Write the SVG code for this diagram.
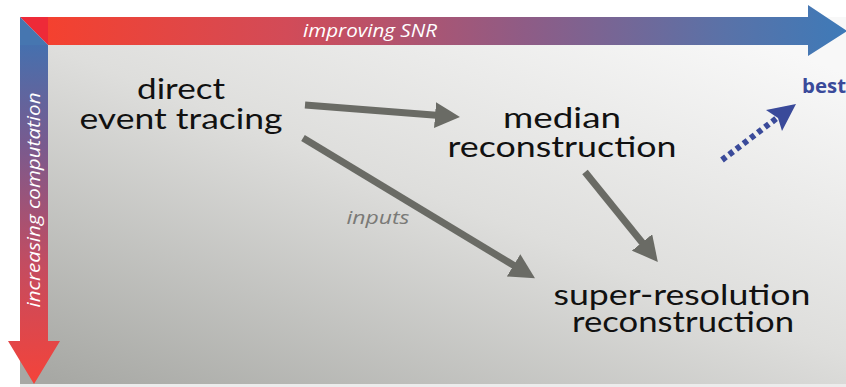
<svg xmlns="http://www.w3.org/2000/svg" width="846" height="387" viewBox="0 0 846 387">
  <defs>
    <style>
      .label { font-family: Lato, "Open Sans", sans-serif; font-size: 29px; fill: #111111; text-anchor: middle; }
      .axis { font-family: "Open Sans", "Noto Sans", sans-serif; font-size: 18px; font-style: italic; fill: #ffffff; text-anchor: middle; }
      .note { font-family: "Open Sans", "Noto Sans", sans-serif; font-size: 19px; font-style: italic; fill: #7a7a77; text-anchor: middle; }
      .best { font-family: "Open Sans", "Noto Sans", sans-serif; font-size: 19px; font-weight: bold; fill: #3a4a9a; }
      .flow { stroke: #6a6b65; stroke-width: 7; fill: none; marker-end: url(#head); }
    </style>
    <linearGradient id="bg" gradientUnits="userSpaceOnUse" x1="60" y1="383" x2="267" y2="-151">
      <stop offset="0" stop-color="#a7a8a4"/>
      <stop offset="0.54" stop-color="#dededc"/>
      <stop offset="1" stop-color="#f8f8f8"/>
    </linearGradient>
    <linearGradient id="snr" gradientUnits="userSpaceOnUse" x1="48" y1="0" x2="846" y2="0">
      <stop offset="0" stop-color="#f4412f"/>
      <stop offset="0.3" stop-color="#d24b58"/>
      <stop offset="0.6" stop-color="#8e5c86"/>
      <stop offset="0.85" stop-color="#5972a8"/>
      <stop offset="1" stop-color="#3e7ab8"/>
    </linearGradient>
    <linearGradient id="comp" gradientUnits="userSpaceOnUse" x1="0" y1="45" x2="0" y2="384">
      <stop offset="0" stop-color="#4670ae"/>
      <stop offset="0.3" stop-color="#7a5a8e"/>
      <stop offset="0.65" stop-color="#c44c60"/>
      <stop offset="1" stop-color="#f4433a"/>
    </linearGradient>
    <marker id="head" markerUnits="userSpaceOnUse" markerWidth="26" markerHeight="26" viewBox="0 0 26 26" refX="11" refY="13" orient="auto">
      <path d="M0,0 L25,13 L0,26 Z" fill="#6a6b65"/>
    </marker>
  </defs>

  <!-- panel -->
  <rect x="20" y="384" width="826" height="3" fill="#ececec"/>
  <rect x="20" y="17" width="826" height="367" fill="url(#bg)"/>

  <!-- axes -->
  <g id="axis-snr">
    <path d="M48,17 H808 V5 L847,31 L808,56 V45 H48 Z" fill="url(#snr)"/>
    <text class="axis" x="370" y="37" textLength="134" lengthAdjust="spacingAndGlyphs">improving SNR</text>
  </g>
  <g id="axis-computation">
    <path d="M20,45 H48 V341 H60 L34,384 L8,341 H20 Z" fill="url(#comp)"/>
    <text class="axis" transform="translate(40,200) rotate(-90)" x="0" y="0" textLength="215" lengthAdjust="spacingAndGlyphs">increasing computation</text>
  </g>
  <g id="corner">
    <polygon points="20,17 48,17 48,45" fill="#ee2a38"/>
    <polygon points="20,17 20,45 48,45" fill="#4676b0"/>
  </g>

  <!-- nodes -->
  <g id="direct">
    <text class="label"><tspan x="181" y="99" textLength="88" lengthAdjust="spacingAndGlyphs">direct</tspan><tspan x="181" y="129" textLength="203" lengthAdjust="spacingAndGlyphs">event tracing</tspan></text>
  </g>
  <g id="median">
    <text class="label"><tspan x="562" y="128" textLength="118" lengthAdjust="spacingAndGlyphs">median</tspan><tspan x="562" y="157" textLength="229" lengthAdjust="spacingAndGlyphs">reconstruction</tspan></text>
  </g>
  <g id="superres">
    <text class="label"><tspan x="682" y="305" textLength="257" lengthAdjust="spacingAndGlyphs">super-resolution</tspan><tspan x="683" y="332" textLength="222" lengthAdjust="spacingAndGlyphs">reconstruction</tspan></text>
  </g>
  <g id="best">
    <text class="best" x="802" y="93" textLength="44" lengthAdjust="spacingAndGlyphs">best</text>
  </g>

  <!-- connectors -->
  <g id="connectors">
    <line class="flow" x1="305" y1="105" x2="446" y2="116"/>
    <line class="flow" x1="303" y1="138" x2="523" y2="271"/>
    <line class="flow" x1="585" y1="172" x2="649" y2="251"/>
    <text class="note" x="378" y="224" textLength="63" lengthAdjust="spacingAndGlyphs">inputs</text>
    <line x1="722" y1="160" x2="777" y2="118" stroke="#3a4a9a" stroke-width="6" stroke-dasharray="5 4"/>
    <polygon points="796,104 766,110 778,118 782,131" fill="#3a4a9a"/>
  </g>
</svg>
